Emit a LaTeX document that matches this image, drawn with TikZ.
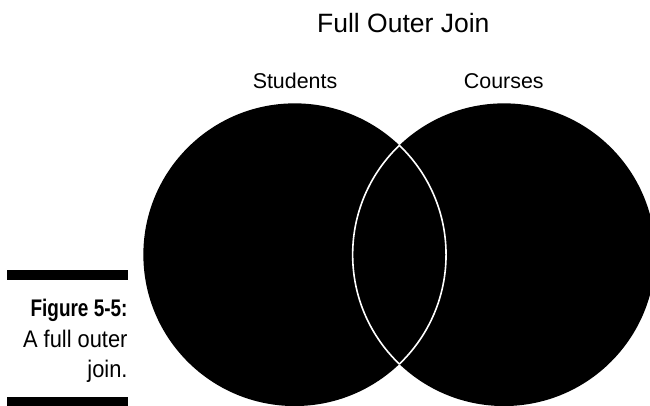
\documentclass[tikz,border=0pt]{standalone}
\usepackage{fontspec}
\setmainfont{Liberation Sans}
\newfontfamily\capreg[FakeStretch=0.91]{Liberation Sans}
\newfontfamily\capbold[FakeStretch=0.79]{Liberation Sans}
\begin{document}
\begin{tikzpicture}[x=1bp,y=1bp,
  setcircle/.style={circle, fill=black, inner sep=0pt, minimum size=302.7bp},
  lenstroke/.style={draw=white, line width=1.6bp},
  titletext/.style={anchor=base, inner sep=0pt, font=\fontsize{26.5bp}{30bp}\selectfont},
  settext/.style={anchor=base, inner sep=0pt, font=\fontsize{21.4bp}{25bp}\selectfont},
  captext/.style={anchor=base east, inner sep=0pt},
  capbar/.style={fill=black}]
\clip (0,0) rectangle (650,405);
\fill[white] (0,0) rectangle (650,405);
% circles
\node[setcircle] (L) at (294.7,150.3) {};
\node[setcircle] (R) at (504.0,150.3) {};
% white outline of the intersection
\begin{scope}
  \clip (294.7,150.3) circle[radius=151.35];
  \draw[lenstroke] (504.0,150.3) circle[radius=151.35];
\end{scope}
\begin{scope}
  \clip (504.0,150.3) circle[radius=151.35];
  \draw[lenstroke] (294.7,150.3) circle[radius=151.35];
\end{scope}
% labels
\node[titletext] (title) at (403.3,372.2) {Full Outer Join};
\node[settext] (students) at (295.0,316.7) {Students};
\node[settext] (courses) at (503.8,316.7) {Courses};
% caption
\fill[capbar] (7.3,125.5) rectangle (127.7,135.2);
\fill[capbar] (7.3,-2) rectangle (127.7,8.3);
\node[captext, font={\capbold\bfseries\fontsize{24bp}{30bp}\selectfont}] (fig) at (127.7,89) {Figure 5-5:};
\node[captext, font={\capreg\fontsize{24bp}{30bp}\selectfont}] (cap1) at (127.7,58) {A full outer};
\node[captext, font={\capreg\fontsize{24bp}{30bp}\selectfont}] (cap2) at (127.7,28) {join.};
\end{tikzpicture}
\end{document}
